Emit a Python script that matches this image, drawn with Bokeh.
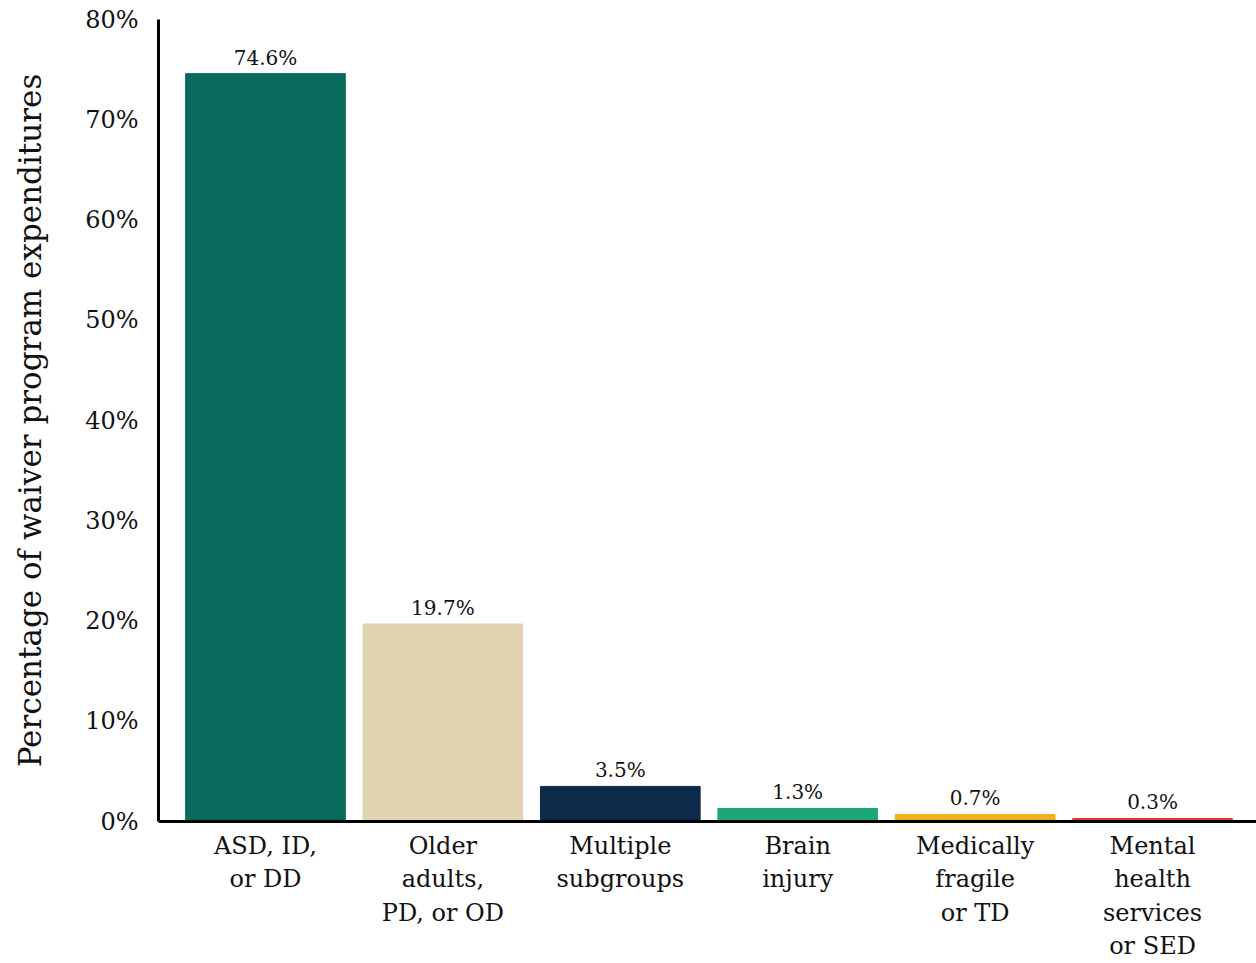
from bokeh.plotting import figure
from bokeh.models import ColumnDataSource, FixedTicker, Range1d, LabelSet
from bokeh.core.properties import value
from bokeh.embed import file_html
from bokeh.resources import INLINE

categories = ["ASD, ID,\nor DD", "Older\nadults,\nPD, or OD", "Multiple\nsubgroups",
              "Brain\ninjury", "Medically\nfragile\nor TD", "Mental\nhealth\nservices\nor SED"]
values = [74.6, 19.7, 3.5, 1.3, 0.7, 0.3]
colors = ["#086b5c", "#e0d4b2", "#0d2a4a", "#1aa775", "#f0b11b", "#e03b30"]
y_ticks = [0, 10, 20, 30, 40, 50, 60, 70, 80]

FONT = "DejaVu Serif"

x = list(range(len(categories)))
src = ColumnDataSource(dict(x=x, top=values, color=colors,
                            label=[f"{v:.1f}%" for v in values]))

p = figure(width=1256, height=963, output_backend="svg", toolbar_location=None,
           x_range=Range1d(-0.603, 5.586), y_range=Range1d(0, 80),
           min_border_left=158, min_border_right=0, min_border_top=19, min_border_bottom=142)
p.outline_line_color = None
p.grid.grid_line_color = None

p.vbar(x="x", top="top", width=0.9, color="color", source=src)

labels = LabelSet(x="x", y="top", text="label", source=src, text_align="center",
                  text_baseline="bottom", y_offset=4, text_font=value(FONT),
                  text_font_size=value("20px"), text_color=value("#111111"))
p.add_layout(labels)

p.xaxis.ticker = FixedTicker(ticks=x)
p.xaxis.major_label_overrides = {i: c for i, c in zip(x, categories)}
p.xaxis.major_label_text_font = FONT
p.xaxis.major_label_text_font_size = "24px"
p.xaxis.major_label_text_color = "#111111"
p.xaxis.major_label_standoff = 4
p.xaxis.major_tick_line_color = None
p.xaxis.minor_tick_line_color = None
p.xaxis.axis_line_width = 3
p.xaxis.axis_line_color = "black"

p.yaxis.ticker = FixedTicker(ticks=y_ticks)
p.yaxis.major_label_overrides = {t: f"{t}%" for t in y_ticks}
p.yaxis.major_label_text_font = FONT
p.yaxis.major_label_text_font_size = "24px"
p.yaxis.major_label_text_color = "#111111"
p.yaxis.major_label_standoff = 14
p.yaxis.major_tick_line_color = None
p.yaxis.minor_tick_line_color = None
p.yaxis.axis_line_width = 3
p.yaxis.axis_line_color = "black"
p.yaxis.axis_label = "Percentage of waiver program expenditures"
p.yaxis.axis_label_text_font = FONT
p.yaxis.axis_label_text_font_size = "31px"
p.yaxis.axis_label_text_font_style = "normal"
p.yaxis.axis_label_text_color = "#111111"
p.yaxis.axis_label_standoff = 34

open("out.html", "w").write(file_html(p, INLINE))
